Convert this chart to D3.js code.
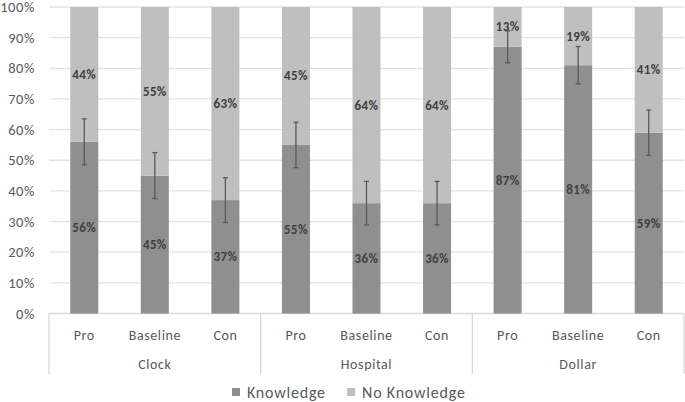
<!DOCTYPE html>
<html>
<head>
<meta charset="utf-8">
<script src="https://cdn.jsdelivr.net/npm/d3@7"></script>
<style>
html,body{margin:0;padding:0;background:#fff;}
svg{display:block;font-family:Carlito,Lato,"Open Sans",sans-serif;}
</style>
</head>
<body>
<svg id="chart" width="685" height="402"></svg>
<script>
const groups = ["Clock", "Hospital", "Dollar"];
const conditions = ["Pro", "Baseline", "Con"];
const knowledge = [56, 45, 37, 55, 36, 36, 87, 81, 59];
const noKnowledge = [44, 55, 63, 45, 64, 64, 13, 19, 41];
const errorMargin = [7.5, 7.5, 7.3, 7.4, 7.1, 7.1, 5.2, 6.1, 7.4];
const yTicks = [0, 10, 20, 30, 40, 50, 60, 70, 80, 90, 100];
const seriesNames = ["Knowledge", "No Knowledge"];
const seriesColors = ["#8f8f8f", "#bfbfbf"];

const rows = [];
groups.forEach((g, gi) => conditions.forEach((c, ci) => {
  const i = gi * conditions.length + ci;
  rows.push({key: i, group: g, cond: c, k: knowledge[i], n: noKnowledge[i], e: errorMargin[i]});
}));

const svg = d3.select("#chart");
const mLeft = 49, mRight = 684, mTop = 7, mBottom = 313.5;

const x = d3.scaleBand().domain(rows.map(d => d.key)).range([mLeft, mRight])
  .paddingInner(0.603).paddingOuter(0.3015);
const y = d3.scaleLinear().domain([0, 100]).range([mBottom, mTop]);

// gridlines
svg.append("g").selectAll("line").data(yTicks).join("line")
  .attr("x1", mLeft).attr("x2", mRight)
  .attr("y1", d => y(d)).attr("y2", d => y(d))
  .attr("stroke", d => d === 0 ? "#d9d9d9" : "#e3e3e3").attr("stroke-width", 1.3);

// y axis labels
const yAxis = d3.axisLeft(y).tickValues(yTicks).tickFormat(d => d + "%").tickSize(0).tickPadding(14);
const yg = svg.append("g").attr("transform", `translate(${mLeft},0)`).call(yAxis);
yg.select(".domain").remove();
yg.attr("font-family", null).attr("font-size", null);
yg.selectAll("text").attr("fill", "#595959").attr("font-size", "14.5px").attr("letter-spacing", "0.6px");

// stacked bars
const stack = d3.stack().keys(["k", "n"])(rows);
svg.append("g").selectAll("g").data(stack).join("g")
  .attr("fill", (d, i) => seriesColors[i])
  .selectAll("rect").data(d => d).join("rect")
  .attr("x", d => x(d.data.key))
  .attr("width", x.bandwidth())
  .attr("y", d => y(d[1]))
  .attr("height", d => y(d[0]) - y(d[1]));

// error bars
const eg = svg.append("g").attr("stroke", "#595959").attr("stroke-width", 1.3);
rows.forEach(d => {
  const cx = x(d.key) + x.bandwidth() / 2;
  const y1 = y(d.k + d.e), y2 = y(d.k - d.e);
  eg.append("line").attr("x1", cx).attr("x2", cx).attr("y1", y1).attr("y2", y2);
  eg.append("line").attr("x1", cx - 2.5).attr("x2", cx + 2.5).attr("y1", y1).attr("y2", y1);
  eg.append("line").attr("x1", cx - 2.5).attr("x2", cx + 2.5).attr("y1", y2).attr("y2", y2);
});

// data labels
svg.append("g").selectAll("text").data(stack.flatMap((s, si) => s.map(d => ({d, si})))).join("text")
  .attr("x", o => x(o.d.data.key) + x.bandwidth() / 2)
  .attr("y", o => (y(o.d[0]) + y(o.d[1])) / 2)
  .attr("text-anchor", "middle").attr("dominant-baseline", "central")
  .attr("fill", "#404040").attr("font-weight", "bold").attr("font-size", "13px")
  .attr("letter-spacing", "0.4px")
  .text(o => (o.si === 0 ? o.d.data.k : o.d.data.n) + "%");

// category axis
const axg = svg.append("g").attr("fill", "#595959").attr("font-size", "14px").attr("letter-spacing", "0.6px");
axg.selectAll("text.cat").data(rows).join("text").attr("class", "cat")
  .attr("x", d => x(d.key) + x.bandwidth() / 2).attr("y", 335)
  .attr("text-anchor", "middle").attr("dominant-baseline", "central").text(d => d.cond);
const groupStep = (mRight - mLeft) / groups.length;
axg.selectAll("text.grp").data(groups).join("text").attr("class", "grp")
  .attr("x", (d, i) => mLeft + groupStep * (i + 0.5)).attr("y", 364)
  .attr("text-anchor", "middle").attr("dominant-baseline", "central").text(d => d);
svg.append("g").selectAll("line").data(d3.range(groups.length + 1)).join("line")
  .attr("x1", i => mLeft + groupStep * i).attr("x2", i => mLeft + groupStep * i)
  .attr("y1", mBottom).attr("y2", 374)
  .attr("stroke", "#d9d9d9").attr("stroke-width", 1.3);

// legend
const legend = svg.append("g").attr("font-size", "16px").attr("fill", "#595959").attr("letter-spacing", "0.8px");
const legX = [232, 347];
seriesNames.forEach((name, i) => {
  legend.append("rect").attr("x", legX[i]).attr("y", 388).attr("width", 8).attr("height", 8).attr("fill", seriesColors[i]);
  legend.append("text").attr("x", legX[i] + 15).attr("y", 392).attr("dominant-baseline", "central").text(name);
});
</script>
</body>
</html>
